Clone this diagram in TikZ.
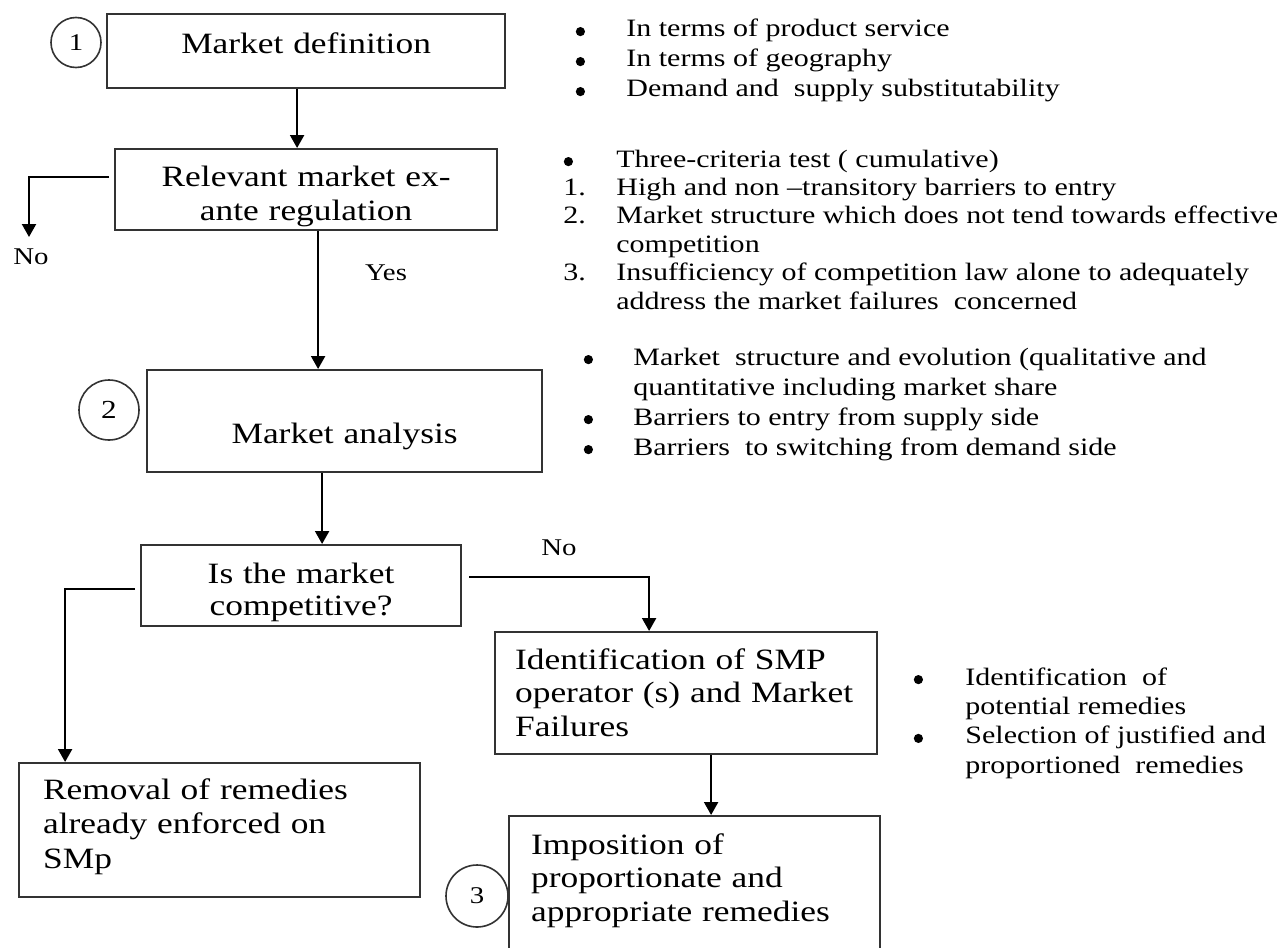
\documentclass[tikz,border=0pt]{standalone}
\usepackage{fontspec}
\setmainfont{Liberation Serif}[FakeStretch=1.2]
\usetikzlibrary{arrows.meta}
\newcommand{\bul}{\tikz[baseline=0pt,x=1pt,y=1pt]\fill (0,0) (2.5,2.7) circle[radius=2.3pt];}

\begin{document}
\begin{tikzpicture}[x=0.5pt,y=-0.5pt,
  box/.style={draw=black!80,line width=1.1pt,anchor=north west,inner ysep=0pt,inner xsep=10pt,font=\fontsize{14.75}{16.75}\selectfont},
  num/.style={circle,draw=black!80,line width=0.8pt,inner sep=0pt,font=\fontsize{12}{12}\selectfont},
  lst/.style={anchor=base west,inner sep=0pt,font=\fontsize{12.5}{15}\selectfont},
  lab/.style={font=\fontsize{12}{12}\selectfont},
  arr/.style={-{Triangle[length=6.5pt,width=7pt]},line width=1.1pt}]
\path[fill=white,use as bounding box] (0,0) rectangle (1278,947);
\node[box,text width=179pt,align=center,text height=19.5pt,text depth=17.5pt] (mdef) at (106,13) {Market definition};
\node[box,text width=171pt,align=center,text height=18.5pt,text depth=22pt,font=\fontsize{14.75}{17}\selectfont] (relmkt) at (114,148) {Relevant market ex-\\ante regulation};
\node[box,text width=177.5pt,align=center,text height=36.5pt,text depth=14.5pt] (manal) at (146,369) {Market analysis};
\node[box,text width=140pt,align=center,text height=19pt,text depth=21.5pt,font=\fontsize{14.75}{16}\selectfont] (iscomp) at (140,544) {Is the market\\competitive?};
\node[box,text width=171pt,align=left,text height=18.5pt,text depth=42.5pt] (ident) at (494,631) {Identification of SMP\\operator (s) and Market\\Failures};
\node[box,inner xsep=11pt,text width=163.5pt,align=left,text height=19pt,text depth=53.5pt] (impos) at (508,815) {Imposition of\\proportionate and\\appropriate remedies};
\node[box,inner xsep=12pt,text width=176.5pt,align=left,text height=18pt,text depth=49pt,font=\fontsize{14.75}{17.25}\selectfont] (remov) at (18,762) {Removal of remedies\\already enforced on\\SMp};
\node[num,minimum size=25pt] (n1) at (76,42.5) {1};
\node[num,minimum size=30pt,font=\fontsize{13}{13}\selectfont] (n2) at (109,410) {2};
\node[num,minimum size=31pt] (n3) at (477,896) {3};
\draw[arr] ([xshift=-4.5pt]mdef.south) -- ([xshift=-4.5pt]mdef.south |- relmkt.north);
\coordinate (noend) at (29,237);
\draw[arr] ([xshift=-2.5pt,yshift=6.25pt]relmkt.west) -| (noend);
\node[lab] (no1) at (31,257) {No};
\draw[arr] ([xshift=6pt]relmkt.south) -- ([xshift=6pt]relmkt.south |- manal.north);
\node[lab] (yes) at (386,273) {Yes};
\draw[arr] ([xshift=-11.25pt]manal.south) -- ([xshift=-11.25pt]manal.south |- iscomp.north);
\draw[arr] ([xshift=-2.5pt,yshift=-1.75pt]iscomp.west) -| ([xshift=-77.25pt]remov.north);
\draw[arr] ([xshift=3.5pt,yshift=4.25pt]iscomp.east) -| ([xshift=-18.5pt]ident.north);
\node[lab] (no2) at (559,548) {No};
\draw[arr] ([xshift=12.5pt]ident.south) -- ([xshift=12.5pt]ident.south |- impos.north);
\node[lst] (defl) at (575,37) {\begin{tabular}[t]{@{}p{25.5pt}@{}l@{}}
\bul & In terms of product service\\
\bul & In terms of geography\\
\bul & Demand and~ supply substitutability
\end{tabular}};
\node[lst,font=\fontsize{12.5}{14.2}\selectfont] (critl) at (563,167) {\begin{tabular}[t]{@{}p{26.5pt}@{}l@{}}
\bul & Three-criteria test ( cumulative)\\
1. & High and non –transitory barriers to entry\\
2. & Market structure which does not tend towards effective\\
 & competition\\
3. & Insufficiency of competition law alone to adequately\\
 & address the market failures~ concerned
\end{tabular}};
\node[lst] (anall) at (583,365) {\begin{tabular}[t]{@{}p{25pt}@{}l@{}}
\bul & Market~ structure and evolution (qualitative and\\
 & quantitative including market share\\
\bul & Barriers to entry from supply side\\
\bul & Barriers~ to switching from demand side
\end{tabular}};
\node[lst,font=\fontsize{12.5}{14.7}\selectfont] (remedl) at (913,685) {\begin{tabular}[t]{@{}p{26pt}@{}l@{}}
\bul & Identification~ of\\
 & potential remedies\\
\bul & Selection of justified and\\
 & proportioned~ remedies
\end{tabular}};
\end{tikzpicture}
\end{document}
